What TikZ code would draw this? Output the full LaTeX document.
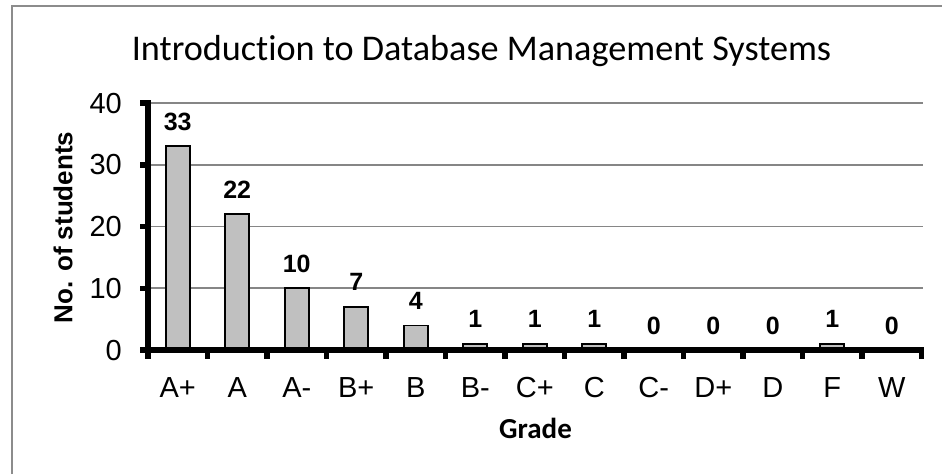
\documentclass[tikz,border=0pt]{standalone}
\usepackage{fontspec}
\setmainfont{Liberation Sans}
\newfontfamily\calfont[Ligatures=NoCommon]{Carlito}
\definecolor{framegray}{HTML}{8C8C8C}
\definecolor{gridgray}{HTML}{868686}
\definecolor{barfill}{HTML}{C0C0C0}
\tikzset{
  frameline/.style={draw=framegray, line width=2},
  gridline/.style={draw=gridgray, line width=1.6},
  axisline/.style={draw=black, line width=6},
  tickline/.style={draw=black, line width=5.5},
  barbox/.style={draw=black, line width=1.6, fill=barfill},
  datalabel/.style={inner sep=0, anchor=base, font=\fontsize{25}{29}\selectfont\bfseries},
  ticklabel/.style={inner sep=0, font=\fontsize{29}{33}\selectfont},
  titlelabel/.style={inner sep=0, anchor=base, font=\calfont\fontsize{36.2}{42}\selectfont},
  axistitle/.style={inner sep=0, font=\calfont\bfseries\fontsize{29}{33}\selectfont},
  yaxistitle/.style={inner sep=0, font=\bfseries\fontsize{26}{30}\selectfont}
}
\begin{document}
\begin{tikzpicture}[x=1pt,y=-1pt]
\useasboundingbox (0,0) rectangle (942,474);
% chart frame (left and top edges visible)
\draw[frameline] (12,474) -- (12,6) -- (942,6);
% title
\node[titlelabel] (title) at (481.5,60) {Introduction to Database Management Systems};
% gridlines
\foreach \g in {10,20,30,40} {
  \pgfmathsetmacro\gy{350-\g*6.175}
  \draw[gridline] (148,\gy) -- (923,\gy);
}
% bars and data labels
\foreach \v/\lab [count=\i from 0] in {33/A+,22/A,10/A-,7/B+,4/B,1/B-,1/C+,1/C,0/C-,0/D+,0/D,1/F,0/W} {
  \pgfmathsetmacro\cx{148+(\i+0.5)*59.5}
  \pgfmathsetmacro\ty{350-\v*6.175}
  \ifnum\v>0 \draw[barbox] (\cx-12,350) rectangle (\cx+12,\ty); \fi
  \node[datalabel] (val\i) at (\cx,\ty-16) {\v};
  \node[ticklabel, anchor=base] (cat\i) at (\cx,397) {\lab};
}
% axes
\draw[axisline] (148,100) -- (148,353);
\draw[axisline] (145,350) -- (924,350);
% y ticks and labels
\foreach \g in {0,10,20,30,40} {
  \pgfmathsetmacro\gy{350-\g*6.175}
  \draw[tickline] (140,\gy) -- (148,\gy);
  \node[ticklabel, anchor=base east] (ylab\g) at (122,\gy+10) {\g};
}
% x ticks
\foreach \k in {0,...,13} {
  \pgfmathsetmacro\tx{148+\k*59.5}
  \draw[tickline] (\tx,350) -- (\tx,359);
}
% axis titles
\node[yaxistitle, rotate=90] (ytitle) at (63,227.5) {No. of students};
\node[axistitle, anchor=base] (xtitle) at (535.5,438) {Grade};
\end{tikzpicture}
\end{document}
